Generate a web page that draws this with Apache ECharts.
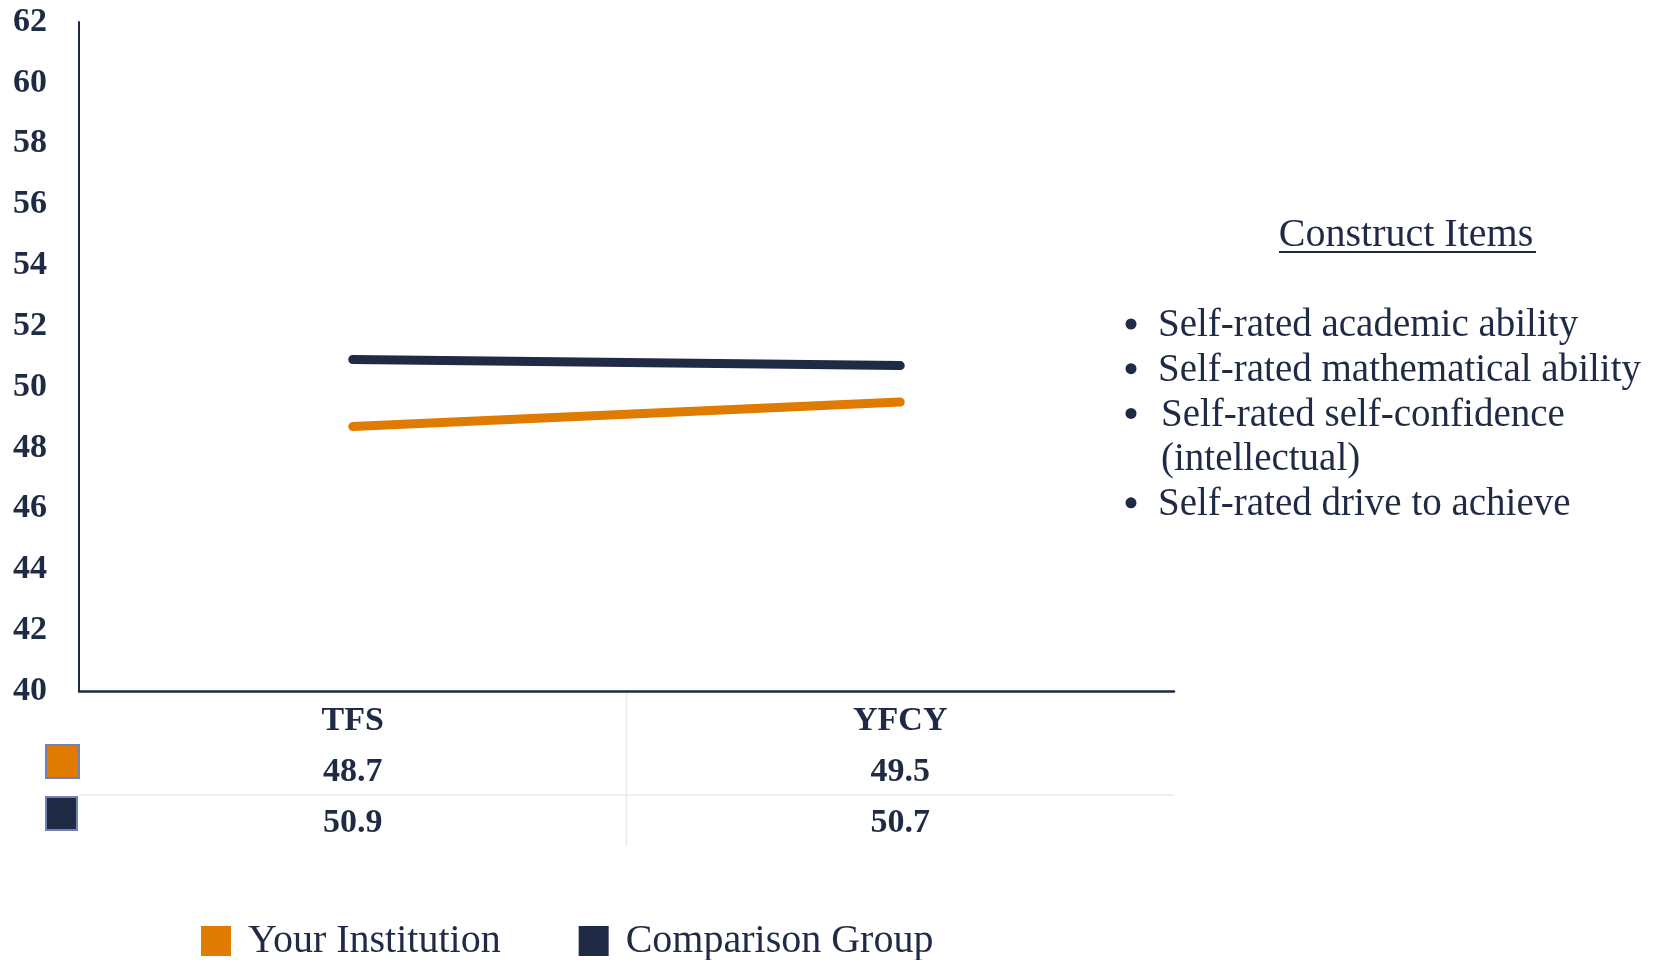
<!DOCTYPE html>
<html>
<head>
<meta charset="utf-8">
<script src="https://cdn.jsdelivr.net/npm/echarts@6/dist/echarts.min.js"></script>
<style>
html,body{margin:0;padding:0;background:#fff;}
#main{width:1658px;height:960px;}
</style>
</head>
<body>
<div id="main"></div>
<script>
const categories = ['TFS', 'YFCY'];
const yourInstitution = [48.7, 49.5];
const comparisonGroup = [50.9, 50.7];
const seriesNames = ['Your Institution', 'Comparison Group'];
const constructTitle = 'Construct Items';
const constructItems = [
  ['Self-rated academic ability'],
  ['Self-rated mathematical ability'],
  ['Self-rated self-confidence', '(intellectual)'],
  ['Self-rated drive to achieve']
];

const NAVY = '#1F2A44';
const ORANGE = '#DF7B00';
const FONT = '"Liberation Serif", "Times New Roman", serif';

const chart = echarts.init(document.getElementById('main'));

const gridLeft = 79, gridRight = 1174, gridTop = 22, gridBottom = 691;

const graphics = [];
// table lines
graphics.push({type:'line', shape:{x1:gridLeft, y1:795, x2:gridRight, y2:795}, style:{stroke:'#efefef', lineWidth:2}, silent:true});
graphics.push({type:'line', shape:{x1:(gridLeft+gridRight)/2, y1:gridBottom+2, x2:(gridLeft+gridRight)/2, y2:846}, style:{stroke:'#efefef', lineWidth:2}, silent:true});
// table legend squares
graphics.push({type:'rect', shape:{x:46, y:745, width:33, height:33}, style:{fill:ORANGE, stroke:'#7381b6', lineWidth:2}});
graphics.push({type:'rect', shape:{x:46, y:797, width:31, height:33}, style:{fill:NAVY, stroke:'#7381b6', lineWidth:2}});
// construct panel
graphics.push({type:'text', x:1406, y:235, style:{text:constructTitle, font:'40px ' + FONT, fill:NAVY, textAlign:'center', textVerticalAlign:'middle'}});
graphics.push({type:'line', shape:{x1:1279, y1:252, x2:1536, y2:252}, style:{stroke:NAVY, lineWidth:2}});
let yy = 326;
const lineStep = 44.7;
constructItems.forEach((item, i) => {
  graphics.push({type:'circle', shape:{cx:1131, cy:yy - 2, r:5.5}, style:{fill:NAVY}});
  item.forEach((t, j) => {
    graphics.push({type:'text', x: (i === 2 ? 1161 : 1158), y:yy, style:{text:t, font:'39px ' + FONT, fill:NAVY, textAlign:'left', textVerticalAlign:'middle'}});
    yy += lineStep;
  });
});

const option = {
  backgroundColor:'#fff',
  animation:false,
  grid:{left:gridLeft, right:1658-gridRight, top:gridTop, bottom:960-gridBottom, containLabel:false},
  legend:{
    data:seriesNames,
    left:196, top:916,
    icon:'rect', itemWidth:30, itemHeight:30, itemGap:78,
    textStyle:{fontFamily:FONT, fontSize:40, color:NAVY, padding:[0,0,0,12]}
  },
  xAxis:{
    type:'category',
    data:categories,
    boundaryGap:true,
    axisLine:{show:true, lineStyle:{color:NAVY, width:2.5}},
    axisTick:{show:false},
    splitLine:{show:false},
    axisLabel:{
      margin:5,
      interval:0,
      formatter:function(value, idx){
        return '{c|' + value + '}\n{v|' + yourInstitution[idx].toFixed(1) + '}\n{v|' + comparisonGroup[idx].toFixed(1) + '}';
      },
      rich:{
        c:{fontFamily:FONT, fontWeight:'bold', fontSize:34, color:NAVY, lineHeight:51},
        v:{fontFamily:FONT, fontWeight:'bold', fontSize:34, color:NAVY, lineHeight:51}
      }
    }
  },
  yAxis:{
    type:'value',
    min:40, max:62, interval:2,
    axisLine:{show:true, lineStyle:{color:NAVY, width:2}},
    axisTick:{show:false},
    splitLine:{show:false},
    axisLabel:{margin:32, fontFamily:FONT, fontWeight:'bold', fontSize:34, color:NAVY}
  },
  series:[
    {name:seriesNames[0], type:'line', data:yourInstitution, symbol:'none', itemStyle:{color:ORANGE},
     lineStyle:{color:ORANGE, width:9, cap:'round'}},
    {name:seriesNames[1], type:'line', data:comparisonGroup, symbol:'none', itemStyle:{color:NAVY},
     lineStyle:{color:NAVY, width:9, cap:'round'}}
  ],
  graphic:graphics
};
chart.setOption(option);
</script>
</body>
</html>
